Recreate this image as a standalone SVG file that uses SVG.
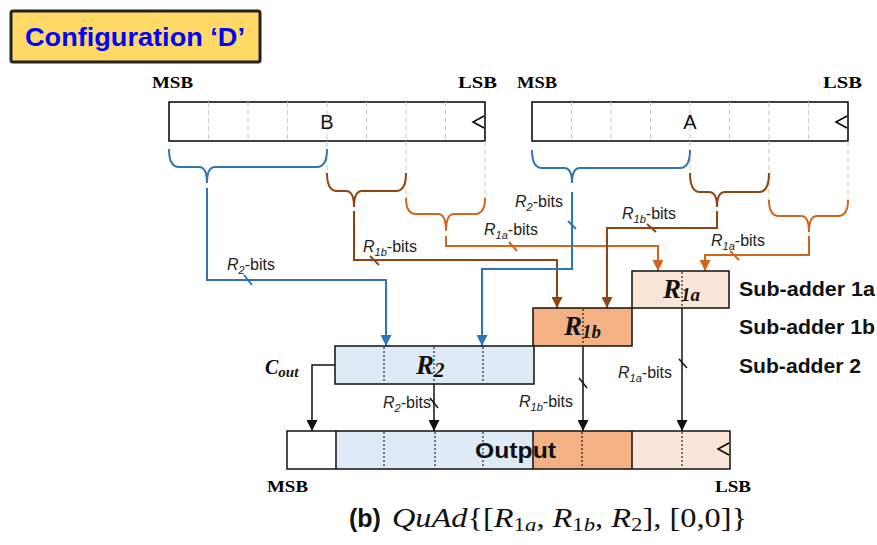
<svg xmlns="http://www.w3.org/2000/svg" width="877" height="545" viewBox="0 0 877 545">
<style>
.reg{fill:#fff;stroke:#000;stroke-width:1.5}
.gd{stroke:#c8c8c8;stroke-width:1;stroke-dasharray:5,3;fill:none}
.dot{stroke:#000;stroke-width:1;stroke-dasharray:2,2;fill:none}
.ms{font-family:"Liberation Serif",serif;font-weight:bold;font-size:17px;fill:#000}
.lb{font-family:"Liberation Sans",sans-serif;font-size:16px;fill:#222}
.sa{font-family:"Liberation Sans",sans-serif;font-weight:bold;font-size:21px;fill:#111}
.rl{font-family:"Liberation Serif",serif;font-weight:bold;font-style:italic;fill:#111}
.blue{stroke:#2E75B6;stroke-width:2;fill:none}
.brown{stroke:#8F4512;stroke-width:2;fill:none}
.orange{stroke:#D0661C;stroke-width:2;fill:none}
.blk{stroke:#111;stroke-width:1.5;fill:none}
.clk{stroke:#000;stroke-width:1.5;fill:none}
</style>
<defs>
<marker id="aBlue" viewBox="0 0 10 10" refX="10" refY="5" markerWidth="11" markerHeight="11" markerUnits="userSpaceOnUse" orient="auto"><path d="M0,0 L10,5 L0,10 z" fill="#2E75B6"/></marker>
<marker id="aBrown" viewBox="0 0 10 10" refX="10" refY="5" markerWidth="11" markerHeight="11" markerUnits="userSpaceOnUse" orient="auto"><path d="M0,0 L10,5 L0,10 z" fill="#8F4512"/></marker>
<marker id="aOrange" viewBox="0 0 10 10" refX="10" refY="5" markerWidth="11" markerHeight="11" markerUnits="userSpaceOnUse" orient="auto"><path d="M0,0 L10,5 L0,10 z" fill="#D0661C"/></marker>
<marker id="aBlk" viewBox="0 0 10 10" refX="10" refY="5" markerWidth="11" markerHeight="11" markerUnits="userSpaceOnUse" orient="auto"><path d="M0,0 L10,5 L0,10 z" fill="#111"/></marker>
</defs>
<rect width="877" height="545" fill="#fff"/>

<g id="title">
<rect x="11" y="11" width="249" height="51" rx="2" fill="#FFD966" stroke="#222" stroke-width="3"/>
<text x="25" y="46" font-family="Liberation Sans,sans-serif" font-weight="bold" font-size="25" fill="#0000FF" textLength="220" lengthAdjust="spacingAndGlyphs">Configuration ‘D’</text>
</g>

<g id="regB">
<text class="ms" x="152" y="88" textLength="41" lengthAdjust="spacingAndGlyphs">MSB</text>
<text class="ms" x="458" y="88" textLength="39" lengthAdjust="spacingAndGlyphs">LSB</text>
<rect class="reg" x="169" y="102" width="316" height="39"/>
<path class="gd" d="M208.5,102V141M248,102V141M287.5,102V141M327,102V141M366.5,102V141M406,102V141M445.5,102V141"/>
<path class="gd" d="M327,141V173M406,141V198M485,141V198"/>
<text x="327" y="129" text-anchor="middle" font-family="Liberation Sans,sans-serif" font-size="20" fill="#111">B</text>
<polyline class="clk" points="484,116 473,122 484,128"/>
</g>

<g id="regA">
<text class="ms" x="517" y="88" textLength="40" lengthAdjust="spacingAndGlyphs">MSB</text>
<text class="ms" x="823" y="88" textLength="39" lengthAdjust="spacingAndGlyphs">LSB</text>
<rect class="reg" x="532" y="102" width="316" height="39"/>
<path class="gd" d="M571.5,102V141M611,102V141M650.5,102V141M690,102V141M729.5,102V141M769,102V141M808.5,102V141"/>
<path class="gd" d="M690,141V173M769,141V200M848,141V200"/>
<text x="690" y="129" text-anchor="middle" font-family="Liberation Sans,sans-serif" font-size="20" fill="#111">A</text>
<polyline class="clk" points="847,116 836,122 847,128"/>
</g>

<g id="connectors">
<path class="blue" d="M169,149 Q169,167 179,167 H199 Q207,167 207,183 Q207,167 215,167 H317 Q327,167 327,149"/>
<path class="brown" d="M327,173 Q327,191 337,191 H346 Q354,191 354,207 Q354,191 362,191 H396 Q406,191 406,173"/>
<path class="orange" d="M406,198 Q406,214 416,214 H438 Q446,214 446,231 Q446,214 454,214 H475 Q485,214 485,198"/>
<path class="blue" d="M532,150 Q532,168 542,168 H564 Q572,168 572,183 Q572,168 580,168 H680 Q690,168 690,150"/>
<path class="brown" d="M690,173 Q690,192 700,192 H709 Q717,192 717,207 Q717,192 725,192 H759 Q769,192 769,173"/>
<path class="orange" d="M769,200 Q769,216 779,216 H801 Q809,216 809,232 Q809,216 817,216 H838 Q848,216 848,200"/>
<path class="blue" d="M207,188 V280 H386 V346" marker-end="url(#aBlue)"/>
<path class="orange" d="M446,236 V246 H658 V271" marker-end="url(#aOrange)"/>
<path class="brown" d="M354,211 V260 H557 V308" marker-end="url(#aBrown)"/>
<path class="blue" d="M572,192 V269 H482 V346" marker-end="url(#aBlue)"/>
<path class="brown" d="M717,211 V228 H607 V308" marker-end="url(#aBrown)"/>
<path class="orange" d="M809,236 V255 H705 V271" marker-end="url(#aOrange)"/>
<path class="blk" d="M335,365 H312 V431" marker-end="url(#aBlk)"/>
<path class="blk" d="M434,384 V431" marker-end="url(#aBlk)"/>
<path class="blk" d="M583,346 V431" marker-end="url(#aBlk)"/>
<path class="blk" d="M682,308 V431" marker-end="url(#aBlk)"/>
<path class="blue" d="M244,275 L252,285 M568,221 L576,229"/>
<path class="brown" d="M370,256 L379,265 M647,224 L656,232"/>
<path class="orange" d="M509,242 L517,251 M730,251 L739,260"/>
<path class="blk" d="M430,398 L438,408 M579,378 L587,388 M679,359 L687,368"/>
<text class="lb" x="227" y="270"><tspan font-style="italic">R</tspan><tspan font-style="italic" font-size="11" dy="4">2</tspan><tspan dy="-4">-bits</tspan></text>
<text class="lb" x="363" y="252"><tspan font-style="italic">R</tspan><tspan font-style="italic" font-size="11" dy="4">1b</tspan><tspan dy="-4">-bits</tspan></text>
<text class="lb" x="484" y="235"><tspan font-style="italic">R</tspan><tspan font-style="italic" font-size="11" dy="4">1a</tspan><tspan dy="-4">-bits</tspan></text>
<text class="lb" x="515" y="207"><tspan font-style="italic">R</tspan><tspan font-style="italic" font-size="11" dy="4">2</tspan><tspan dy="-4">-bits</tspan></text>
<text class="lb" x="622" y="219"><tspan font-style="italic">R</tspan><tspan font-style="italic" font-size="11" dy="4">1b</tspan><tspan dy="-4">-bits</tspan></text>
<text class="lb" x="711" y="246"><tspan font-style="italic">R</tspan><tspan font-style="italic" font-size="11" dy="4">1a</tspan><tspan dy="-4">-bits</tspan></text>
<text class="lb" x="383" y="408"><tspan font-style="italic">R</tspan><tspan font-style="italic" font-size="11" dy="4">2</tspan><tspan dy="-4">-bits</tspan></text>
<text class="lb" x="519" y="407"><tspan font-style="italic">R</tspan><tspan font-style="italic" font-size="11" dy="4">1b</tspan><tspan dy="-4">-bits</tspan></text>
<text class="lb" x="618" y="378"><tspan font-style="italic">R</tspan><tspan font-style="italic" font-size="11" dy="4">1a</tspan><tspan dy="-4">-bits</tspan></text>
<text class="rl" x="265" y="374" font-size="20">C<tspan font-size="15" dy="3">out</tspan></text>
</g>

<g id="sub1a">
<rect x="632" y="271" width="97" height="37" fill="#FBE5D6" stroke="#111" stroke-width="1.5"/>
<path class="dot" d="M682,272V307"/>
<text class="rl" x="663" y="298" font-size="27">R<tspan font-size="19" dy="3">1a</tspan></text>
<text class="sa" x="739" y="296" textLength="136" lengthAdjust="spacingAndGlyphs">Sub-adder 1a</text>
</g>

<g id="sub1b">
<rect x="533" y="308" width="99" height="38" fill="#F4B183" stroke="#111" stroke-width="1.5"/>
<path class="dot" d="M583,309V345"/>
<text class="rl" x="564" y="335" font-size="27">R<tspan font-size="19" dy="3">1b</tspan></text>
<text class="sa" x="739" y="334" textLength="136" lengthAdjust="spacingAndGlyphs">Sub-adder 1b</text>
</g>

<g id="sub2">
<rect x="335" y="346" width="199" height="38" fill="#DEEBF7" stroke="#111" stroke-width="1.5"/>
<path class="dot" d="M384,347V383M434,347V383M483,347V383"/>
<text class="rl" x="416" y="374" font-size="27">R<tspan font-size="21" dy="3">2</tspan></text>
<text class="sa" x="739" y="373" textLength="122" lengthAdjust="spacingAndGlyphs">Sub-adder 2</text>
</g>

<g id="output">
<rect x="287" y="431" width="49" height="38" fill="#fff"/>
<rect x="336" y="431" width="197" height="38" fill="#DEEBF7"/>
<rect x="533" y="431" width="99" height="38" fill="#F4B183"/>
<rect x="632" y="431" width="98" height="38" fill="#FBE5D6"/>
<path class="dot" d="M384,432V468M435,432V468M483,432V468M582,432V468M682,432V468"/>
<path d="M336,431V469M533,431V469M632,431V469" stroke="#111" stroke-width="1.5"/>
<rect x="287" y="431" width="443" height="38" fill="none" stroke="#111" stroke-width="1.5"/>
<text x="475" y="458" font-family="Liberation Sans,sans-serif" font-weight="bold" font-size="22" fill="#111" textLength="81" lengthAdjust="spacingAndGlyphs">Output</text>
<polyline class="clk" points="729,443 718,449 729,455"/>
<text class="ms" x="267" y="492" textLength="41" lengthAdjust="spacingAndGlyphs">MSB</text>
<text class="ms" x="715" y="492" textLength="36" lengthAdjust="spacingAndGlyphs">LSB</text>
</g>

<g id="caption">
<text x="349" y="527" fill="#111"><tspan font-family="Liberation Sans,sans-serif" font-weight="bold" font-size="25">(b)</tspan></text>
<text x="392" y="527" fill="#111" font-family="Liberation Serif,serif" font-size="27" textLength="355" lengthAdjust="spacingAndGlyphs"><tspan font-style="italic">QuAd</tspan><tspan>{[</tspan><tspan font-style="italic">R</tspan><tspan font-size="19" dy="4">1<tspan font-style="italic">a</tspan></tspan><tspan dy="-4">, </tspan><tspan font-style="italic">R</tspan><tspan font-size="19" dy="4">1<tspan font-style="italic">b</tspan></tspan><tspan dy="-4">, </tspan><tspan font-style="italic">R</tspan><tspan font-size="19" dy="4">2</tspan><tspan dy="-4">], [0,0]}</tspan></text>
</g>
</svg>
